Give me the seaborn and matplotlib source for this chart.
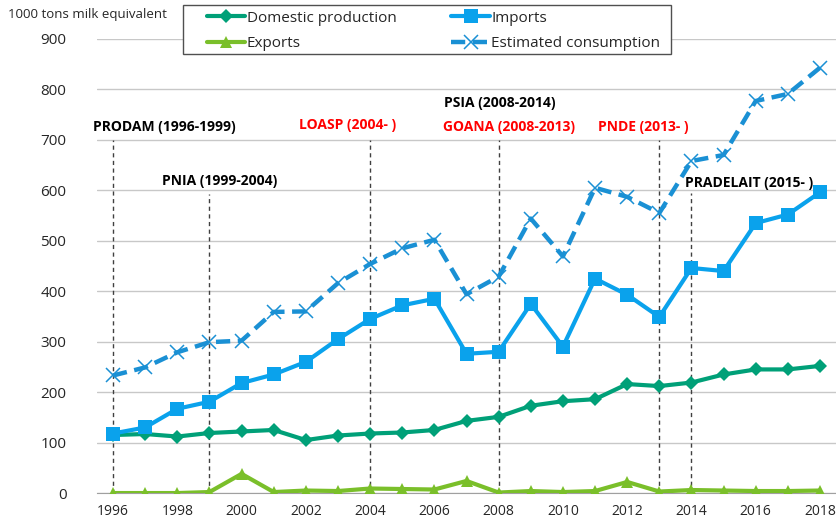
import pandas as pd
import matplotlib.pyplot as plt
from matplotlib.patches import Rectangle
import seaborn as sns

years = list(range(1996, 2019))
domestic = [115, 117, 112, 119, 122, 125, 105, 114, 118, 120, 125, 143, 151, 173,
            182, 186, 216, 212, 219, 235, 245, 245, 252]
imports = [118, 130, 167, 181, 218, 235, 260, 305, 345, 372, 385, 276, 280, 375,
           290, 425, 393, 349, 446, 440, 535, 552, 596]
exports = [0, 0, 0, 2, 38, 2, 5, 4, 9, 8, 7, 24, 1, 4, 2, 4, 22, 3, 6, 5, 4, 4, 5]
consumption = [233, 249, 279, 299, 302, 359, 360, 416, 454, 485, 502, 394, 429, 544,
               469, 605, 587, 555, 658, 670, 777, 791, 843]

# policy programmes
policy_years = [1996, 1999, 2004, 2008, 2013, 2014]
policy_tops = [700, 592, 700, 700, 700, 595]
labels = ["PRODAM (1996-1999)", "PNIA (1999-2004)", "LOASP (2004- )", "PSIA (2008-2014)",
          "GOANA (2008-2013)", "PNDE (2013- )", "PRADELAIT (2015- )"]
label_colors = ["black", "black", "red", "black", "red", "red", "black"]
label_x = [1995.38, 1997.52, 2001.8, 2006.3, 2006.27, 2011.1, 2013.8]
label_y = [726, 619, 730, 774, 726, 726, 615]

df = pd.DataFrame({"year": years, "Domestic production": domestic, "Imports": imports,
                   "Exports": exports, "Estimated consumption": consumption})

sns.set_style("white")
plt.rcParams["font.family"] = ["Open Sans", "DejaVu Sans"]

fig = plt.figure(figsize=(8.36, 5.19), dpi=100)
ax = fig.add_axes([0.116, 0.050, 0.886, 0.875])

for y in range(0, 1000, 100):
    ax.axhline(y, color="#c8c8c8", lw=1, zorder=0)

for yr, top in zip(policy_years, policy_tops):
    ax.plot([yr, yr], [0, top], color="#404040", ls=(0, (3, 2.5)), lw=1, zorder=1)

sns.lineplot(data=df, x="year", y="Domestic production", ax=ax, color="#00a078", lw=3,
             marker="D", markersize=7, markeredgewidth=0, label="Domestic production", zorder=3)
sns.lineplot(data=df, x="year", y="Exports", ax=ax, color="#7abf2a", lw=3,
             marker="^", markersize=9, markeredgewidth=0, label="Exports", zorder=3)
sns.lineplot(data=df, x="year", y="Imports", ax=ax, color="#0aa2ec", lw=3,
             marker="s", markersize=10, markeredgewidth=0, label="Imports", zorder=3)
sns.lineplot(data=df, x="year", y="Estimated consumption", ax=ax, color="#1a90d4", lw=3.2,
             ls=(0, (3.2, 1.7)), marker="x", markersize=10, markeredgewidth=1.1,
             markeredgecolor="#1a90d4", label="Estimated consumption", zorder=3)

for txt, c, x, y in zip(labels, label_colors, label_x, label_y):
    ax.text(x, y, txt, color=c, fontsize=10, fontweight="bold", ha="left", va="center")

ax.set_xlim(1995.5, 2018.55)
ax.set_ylim(0, 900)
ax.set_xticks(years[::2])
ax.set_xticks([y - 0.5 for y in years] + [2018.5], minor=True)
ax.tick_params(axis="x", which="major", length=0, labelsize=10, pad=8)
ax.tick_params(axis="x", which="minor", length=5, color="#a0a0a0", direction="out")
ax.tick_params(axis="y", length=0, labelsize=11, pad=22)
ax.set_yticks(range(0, 1000, 100))
ax.set_xlabel("")
ax.set_ylabel("")
for s in ["top", "left", "right"]:
    ax.spines[s].set_visible(False)
ax.spines["bottom"].set_color("#a0a0a0")

# legend box drawn separately so the inner padding matches the original
handles, names = ax.get_legend_handles_labels()
ax.get_legend().remove()
fig.patches.append(Rectangle((183 / 836, 1 - 54 / 519), 488 / 836, 49 / 519,
                             transform=fig.transFigure, facecolor="white",
                             edgecolor="#505050", lw=1, zorder=4))
leg = fig.legend(handles, names, ncol=2, loc="upper left",
                 bbox_to_anchor=(207 / 836, 1 - 10.5 / 519), frameon=False, fontsize=11,
                 handlelength=2.5, handletextpad=0.1, columnspacing=3.6, borderpad=0,
                 borderaxespad=0, labelspacing=0.7)
leg.set_zorder(5)

fig.text(0.01, 0.972, "1000 tons milk equivalent", fontsize=9.5, va="center")

fig.savefig("out.png", dpi=100)
